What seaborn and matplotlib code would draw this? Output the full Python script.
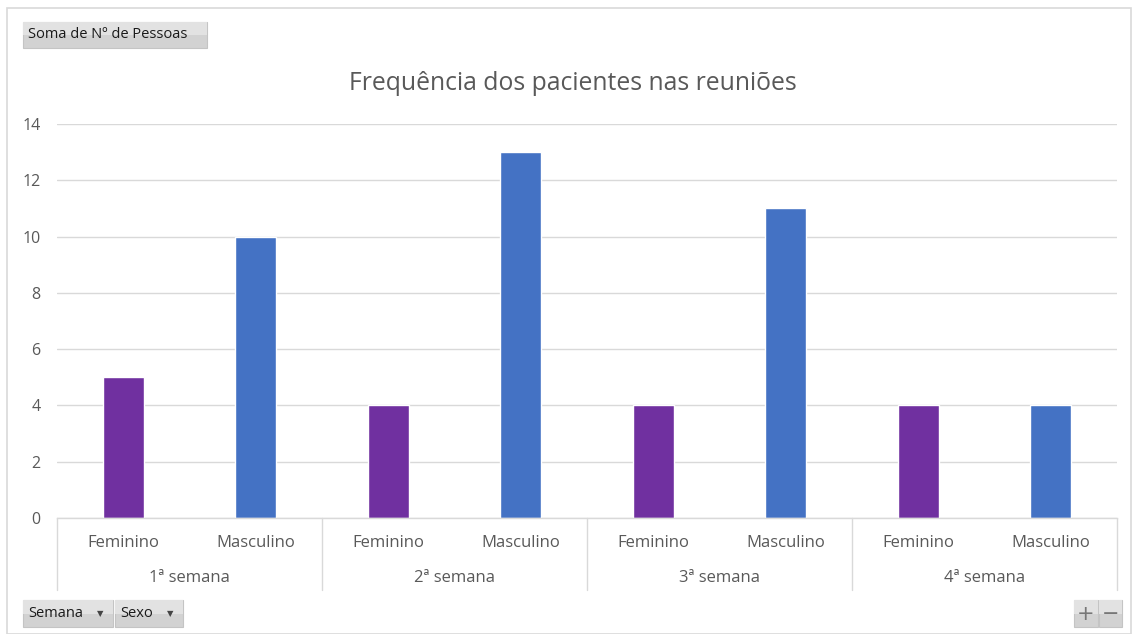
import matplotlib
matplotlib.use("Agg")
import matplotlib.pyplot as plt
import matplotlib.patches as mpatches
import matplotlib.transforms as mtransforms
import seaborn as sns
import pandas as pd
import numpy as np

semanas = ["1ª semana", "2ª semana", "3ª semana", "4ª semana"]
sexos = ["Feminino", "Masculino"]
feminino = [5, 4, 4, 4]
masculino = [10, 13, 11, 4]
cores = {"Feminino": "#7030A0", "Masculino": "#4472C4"}
titulo = "Frequência dos pacientes nas reuniões"
yticks = [0, 2, 4, 6, 8, 10, 12, 14]

rows = []
for i, s in enumerate(semanas):
    rows.append({"slot": f"{s}|Feminino", "Semana": s, "Sexo": "Feminino", "N": feminino[i]})
    rows.append({"slot": f"{s}|Masculino", "Semana": s, "Sexo": "Masculino", "N": masculino[i]})
df = pd.DataFrame(rows)

sns.set_theme(style="white")
plt.rcParams["font.family"] = ["Open Sans", "DejaVu Sans"]

fig = plt.figure(figsize=(11.38, 6.34), dpi=100)
ax = fig.add_axes([57/1138, 1-518/634, (1117-57)/1138, (518-124)/634])

sns.barplot(data=df, x="slot", y="N", hue="Sexo", palette=cores, dodge=False,
            width=0.31, ax=ax, legend=False, saturation=1)

ax.set_ylim(0, 14)
ax.set_xlim(-0.5, len(df) - 0.5)
ax.set_yticks(yticks)
ax.set_yticklabels([str(v) for v in yticks], color="#595959", fontsize=11.5)
ax.yaxis.grid(True, color="#d9d9d9", linewidth=1)
ax.set_axisbelow(True)
ax.set_xlabel("")
ax.set_ylabel("")
for sp in ["top", "right", "left"]:
    ax.spines[sp].set_visible(False)
ax.spines["bottom"].set_color("#d9d9d9")
ax.spines["bottom"].set_linewidth(1)
ax.tick_params(axis="y", length=0, pad=12)
ax.tick_params(axis="x", length=0, pad=12.5)
ax.set_xticks(range(len(df)))
ax.set_xticklabels(df["Sexo"].tolist(), color="#595959", fontsize=12)

trans = mtransforms.blended_transform_factory(ax.transData, ax.transAxes)
ah = (518 - 124)
for k in range(len(semanas) + 1):
    xpos = k * 2 - 0.5
    ax.plot([xpos, xpos], [0, -72/ah], transform=trans, color="#d9d9d9",
            lw=1, clip_on=False)
for i, s in enumerate(semanas):
    ax.text(i * 2 + 0.5, -60/ah, s, transform=trans, ha="center", va="center",
            color="#595959", fontsize=12)

fig.text(573/1138, 1-84/634, titulo, ha="center", va="center",
         color="#595959", fontsize=17.8)

# chart frame
fig.add_artist(mpatches.Rectangle((7/1138, 0), (1131-7)/1138, 1-8/634,
               transform=fig.transFigure, fill=False, edgecolor="#d9d9d9", lw=1.2))

def button(x0, y0, x1, y1, label, arrow=False, ha="left"):
    w = (x1 - x0)/1138
    h = (y1 - y0)/634
    fx = x0/1138
    fy = 1 - y1/634
    fig.add_artist(mpatches.Rectangle((fx, fy), w, h, transform=fig.transFigure,
                   facecolor="#d2d2d2", edgecolor="#c4c4c4", lw=0.8))
    fig.add_artist(mpatches.Rectangle((fx, fy + h*0.5), w, h*0.5, transform=fig.transFigure,
                   facecolor="#e2e2e2", edgecolor="none", lw=0))
    if ha == "left":
        fig.text(fx + 5/1138, fy + h/2, label, ha="left", va="center",
                 fontsize=10.5, color="#1a1a1a")
    else:
        fig.text(fx + w/2, fy + h/2, label, ha="center", va="center",
                 fontsize=15, color="#777777", family="DejaVu Sans")
    if arrow:
        fig.text(fx + w - 13/1138, fy + h/2, "▼", ha="center", va="center",
                 fontsize=6, color="#444444", family="DejaVu Sans")

button(23, 22, 207, 48, "Soma de Nº de Pessoas")
button(23, 600, 113, 627, "Semana", arrow=True)
button(115, 600, 183, 627, "Sexo", arrow=True)
button(1074, 600, 1098, 627, "+", ha="center")
button(1099, 600, 1122, 627, "−", ha="center")

fig.savefig("out.png", dpi=100, facecolor="white")
